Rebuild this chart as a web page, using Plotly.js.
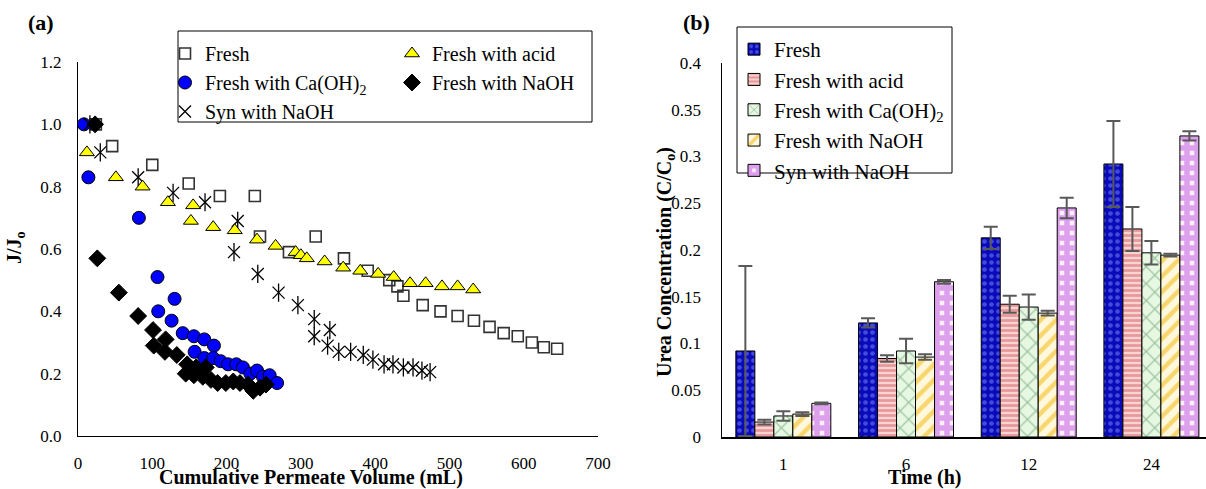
<!DOCTYPE html>
<html>
<head>
<meta charset="utf-8">
<script src="https://cdn.plot.ly/plotly-3.0.1.min.js"></script>
<style>html,body{margin:0;padding:0;background:#fff;}#chart{width:1206px;height:489px;}</style>
</head>
<body>
<div id="chart"></div>
<script>
// ---- Panel (a): normalized flux vs cumulative permeate volume ----
const freshX = [24, 46, 100, 149, 191, 238, 245, 284, 320, 358, 390, 419, 430, 438, 464, 488, 511, 533, 554, 573, 592, 611, 627, 645];
const freshY = [1.00, 0.93, 0.87, 0.81, 0.77, 0.77, 0.64, 0.59, 0.64, 0.57, 0.53, 0.50, 0.48, 0.45, 0.42, 0.40, 0.385, 0.37, 0.35, 0.33, 0.32, 0.30, 0.285, 0.28];
const acidX = [12, 51, 87, 121, 152, 155, 182, 211, 241, 266, 293, 300, 308, 332, 357, 380, 404, 425, 447, 468, 490, 511, 532];
const acidY = [0.91, 0.83, 0.80, 0.75, 0.69, 0.74, 0.67, 0.66, 0.63, 0.61, 0.59, 0.58, 0.57, 0.56, 0.54, 0.53, 0.52, 0.51, 0.49, 0.49, 0.48, 0.48, 0.47];
const caX = [8, 14, 82, 107, 130, 108, 126, 141, 156, 170, 183, 157, 170, 182, 192, 202, 213, 222, 232, 241, 249, 258, 268];
const caY = [1.00, 0.83, 0.70, 0.51, 0.44, 0.40, 0.37, 0.33, 0.32, 0.31, 0.29, 0.27, 0.25, 0.25, 0.24, 0.23, 0.23, 0.22, 0.20, 0.21, 0.19, 0.195, 0.17];
const naohX = [23, 26, 55, 81, 101, 102, 118, 117, 133, 147, 145, 159, 156, 172, 168, 179, 188, 199, 209, 218, 229, 236, 245, 253];
const naohY = [1.00, 0.57, 0.46, 0.385, 0.34, 0.29, 0.31, 0.27, 0.26, 0.23, 0.20, 0.22, 0.195, 0.22, 0.19, 0.18, 0.17, 0.17, 0.175, 0.17, 0.165, 0.145, 0.155, 0.165];
const synX = [16, 30, 81, 128, 171, 215, 210, 242, 270, 296, 318, 339, 318, 336, 351, 367, 384, 397, 412, 424, 438, 451, 463, 474];
const synY = [1.00, 0.91, 0.83, 0.78, 0.75, 0.69, 0.59, 0.52, 0.46, 0.42, 0.375, 0.34, 0.32, 0.29, 0.27, 0.27, 0.26, 0.245, 0.23, 0.23, 0.22, 0.22, 0.21, 0.205];

// ---- Panel (b): urea concentration vs time ----
const timeLabels = ['1', '6', '12', '24'];
const ureaFresh = [0.092, 0.122, 0.213, 0.292];
const errFresh  = [0.091, 0.005, 0.012, 0.046];
const ureaAcid  = [0.016, 0.084, 0.142, 0.2225];
const errAcid   = [0.0025, 0.0035, 0.009, 0.0235];
const ureaCa    = [0.0225, 0.092, 0.139, 0.197];
const errCa     = [0.005, 0.013, 0.0135, 0.0125];
const ureaNaOH  = [0.0245, 0.0855, 0.1325, 0.1945];
const errNaOH   = [0.002, 0.003, 0.0025, 0.0015];
const ureaSyn   = [0.036, 0.166, 0.245, 0.322];
const errSyn    = [0.001, 0.002, 0.011, 0.005];

const SERIF = 'Liberation Serif';
const W = 1206, H = 489;
const px = v => v / W, py = v => 1 - v / H;

const mk = (sym, color, lc, lw, size) => ({symbol: sym, color: color, size: size, line: {color: lc, width: lw}});

const traces = [
  {type: 'scatter', mode: 'markers', x: freshX, y: freshY, name: 'Fresh', xaxis: 'x', yaxis: 'y', legend: 'legend',
   marker: mk('square-open', '#333333', '#333333', 1.6, 11)},
  {type: 'scatter', mode: 'markers', x: caX, y: caY, name: 'Fresh with Ca(OH)<sub>2</sub>', xaxis: 'x', yaxis: 'y', legend: 'legend',
   marker: mk('circle', '#0000ff', '#000000', 1, 13)},
  {type: 'scatter', mode: 'markers', x: synX, y: synY, name: 'Syn with NaOH', xaxis: 'x', yaxis: 'y', legend: 'legend', legendgroup: 'syn',
   marker: mk('x-thin-open', '#000000', '#000000', 1.3, 12)},
  {type: 'scatter', mode: 'markers', x: synX, y: synY, name: 'Syn with NaOH', xaxis: 'x', yaxis: 'y', showlegend: false, legendgroup: 'syn',
   marker: mk('line-ns-open', '#000000', '#000000', 1.3, 13)},
  {type: 'scatter', mode: 'markers', x: acidX, y: acidY, name: 'Fresh with acid', xaxis: 'x', yaxis: 'y', legend: 'legend2',
   marker: mk('triangle-up', '#ffff00', '#000000', 1, 13)},
  {type: 'scatter', mode: 'markers', x: naohX, y: naohY, name: 'Fresh with NaOH', xaxis: 'x', yaxis: 'y', legend: 'legend2',
   marker: mk('diamond', '#000000', '#000000', 1, 13)}
];

const errStyle = arr => ({type: 'data', array: arr, visible: true, color: '#595959', thickness: 2, width: 7});
const barTrace = (name, y, err, bg, fg, shape, size, sol) => ({
  type: 'bar', x: timeLabels, y: y, name: name, xaxis: 'x2', yaxis: 'y2', legend: 'legend3',
  marker: {color: bg, line: {color: '#000000', width: 1},
           pattern: {shape: shape, bgcolor: bg, fgcolor: fg, size: size, solidity: sol, fillmode: 'overlay'}},
  error_y: errStyle(err)
});
traces.push(
  barTrace('Fresh', ureaFresh, errFresh, '#0a0ab8', '#7b8cff', '.', 7, 0.35),
  barTrace('Fresh with acid', ureaAcid, errAcid, '#f7d4d4', '#d95c5c', '-', 5, 0.55),
  barTrace('Fresh with Ca(OH)<sub>2</sub>', ureaCa, errCa, '#e6f8e2', '#3f7f4a', 'x', 12, 0.18),
  barTrace('Fresh with NaOH', ureaNaOH, errNaOH, '#fff8dc', '#f2b400', '/', 11, 0.4),
  barTrace('Syn with NaOH', ureaSyn, errSyn, '#fff0f8', '#b94fe2', '+', 10, 0.8)
);

const tickFont = {family: SERIF, size: 17, color: '#000000'};
const legFontA = {family: SERIF, size: 20, color: '#000000'};
const legFontB = {family: SERIF, size: 21, color: '#000000'};
const titleFont = {family: SERIF, size: 20, color: '#000000', weight: 'bold'};

const layout = {
  width: W, height: H,
  font: {family: SERIF, color: '#000000'},
  margin: {l: 0, r: 0, t: 0, b: 0},
  paper_bgcolor: '#ffffff', plot_bgcolor: 'rgba(0,0,0,0)',
  showlegend: true,
  barmode: 'group', bargap: 0.226, bargroupgap: 0,
  xaxis: {domain: [px(78), px(598)], range: [0, 700], dtick: 100, tick0: 0,
          showgrid: false, zeroline: false, showline: true, linecolor: '#000000', linewidth: 1.2,
          ticks: '', tickfont: tickFont, ticklabelstandoff: 11, anchor: 'y', automargin: false},
  yaxis: {domain: [1 - 436 / H, 1 - 62 / H], range: [0, 1.2], dtick: 0.2, tick0: 0, tickformat: '.1f',
          showgrid: false, zeroline: false, showline: true, linecolor: '#000000', linewidth: 1.2,
          ticks: '', tickfont: tickFont, ticklabelstandoff: 12, anchor: 'x', automargin: false},
  xaxis2: {domain: [px(722), 1], type: 'category', range: [-0.5, 3.445],
           showgrid: false, zeroline: false, showline: true, linecolor: '#000000', linewidth: 2,
           ticks: '', tickfont: tickFont, ticklabelstandoff: 11, anchor: 'y2', automargin: false},
  yaxis2: {domain: [1 - 437 / H, 1 - 63 / H], range: [0, 0.4], dtick: 0.05, tick0: 0,
           showgrid: false, zeroline: false, showline: true, linecolor: '#000000', linewidth: 1.5,
           ticks: '', tickfont: tickFont, ticklabelstandoff: 16, anchor: 'x2', automargin: false},
  legend: {x: px(165), y: py(34), xanchor: 'left', yanchor: 'top', orientation: 'v',
           bgcolor: 'rgba(0,0,0,0)', borderwidth: 0, font: legFontA, itemwidth: 30, tracegroupgap: 0},
  legend2: {x: px(392), y: py(34), xanchor: 'left', yanchor: 'top', orientation: 'v',
            bgcolor: 'rgba(0,0,0,0)', borderwidth: 0, font: legFontA, itemwidth: 30, tracegroupgap: 0},
  legend3: {x: px(734), y: py(29), xanchor: 'left', yanchor: 'top', orientation: 'v',
            bgcolor: 'rgba(0,0,0,0)', borderwidth: 0, font: legFontB, itemwidth: 30, tracegroupgap: 0},
  shapes: [
    {type: 'rect', xref: 'paper', yref: 'paper', x0: px(178), x1: px(592), y0: py(122), y1: py(31),
     line: {color: '#000000', width: 1}, fillcolor: 'rgba(0,0,0,0)', layer: 'below'},
    {type: 'rect', xref: 'paper', yref: 'paper', x0: px(737), x1: px(952), y0: py(173), y1: py(27),
     line: {color: '#000000', width: 1}, fillcolor: 'rgba(0,0,0,0)', layer: 'below'}
  ],
  annotations: [
    {text: '<b>(a)</b>', xref: 'paper', yref: 'paper', x: px(41), y: py(23), xanchor: 'center', yanchor: 'middle',
     showarrow: false, font: {family: SERIF, size: 22, color: '#000000'}},
    {text: '<b>(b)</b>', xref: 'paper', yref: 'paper', x: px(696), y: py(23), xanchor: 'center', yanchor: 'middle',
     showarrow: false, font: {family: SERIF, size: 22, color: '#000000'}},
    {text: 'Cumulative Permeate Volume (mL)', xref: 'paper', yref: 'paper', x: px(311), y: py(477),
     xanchor: 'center', yanchor: 'middle', showarrow: false, font: titleFont},
    {text: 'Time (h)', xref: 'paper', yref: 'paper', x: px(925), y: py(477),
     xanchor: 'center', yanchor: 'middle', showarrow: false, font: titleFont},
    {text: 'J/J<sub>o</sub>', xref: 'paper', yref: 'paper', x: px(15), y: py(248), textangle: -90,
     xanchor: 'center', yanchor: 'middle', showarrow: false, font: titleFont},
    {text: 'Urea Concentration (C/C<sub>o</sub>)', xref: 'paper', yref: 'paper', x: px(665), y: py(262), textangle: -90,
     xanchor: 'center', yanchor: 'middle', showarrow: false, font: titleFont}
  ]
};

Plotly.newPlot('chart', traces, layout, {displayModeBar: false, staticPlot: true});
</script>
</body>
</html>
